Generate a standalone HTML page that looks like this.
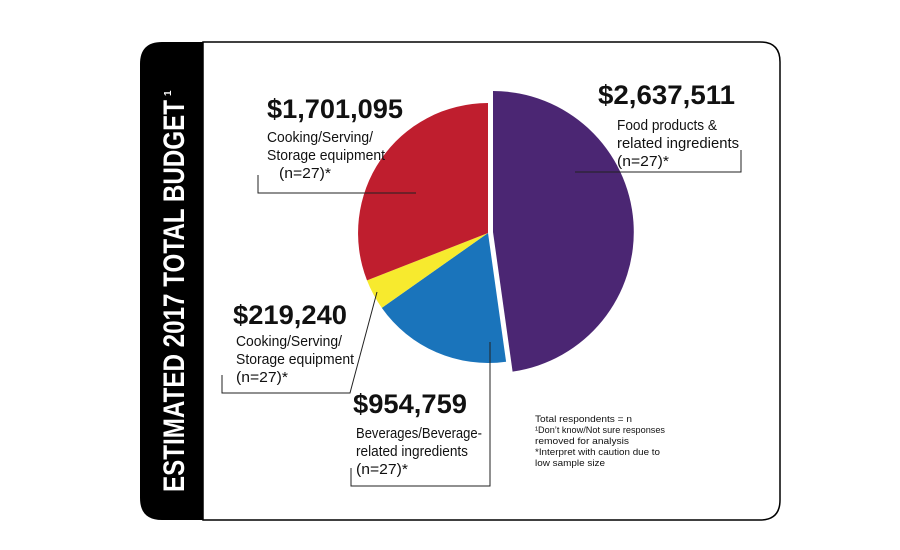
<!DOCTYPE html>
<html><head><meta charset="utf-8"><style>
html,body{margin:0;padding:0;background:#fff;}
svg{display:block;}
text{font-family:"Liberation Sans",sans-serif;}
</style></head><body>
<svg width="900" height="550" viewBox="0 0 900 550" xmlns="http://www.w3.org/2000/svg">
<rect x="0" y="0" width="900" height="550" fill="#fff"/>
<path d="M203,42 H760 Q780,42 780,62 V500 Q780,520 760,520 H203 Z" fill="#fff" stroke="#000" stroke-width="1.5"/>
<path d="M203,42 H162 Q140,42 140,64 V498 Q140,520 162,520 H203 Z" fill="#000"/>
<text transform="translate(184,492) rotate(-90)" font-size="30" font-weight="bold" fill="#fff" textLength="392" lengthAdjust="spacingAndGlyphs">ESTIMATED 2017 TOTAL BUDGET</text>
<text transform="translate(171,96) rotate(-90)" font-size="10" font-weight="bold" fill="#fff">1</text>
<!-- pie -->
<path d="M488,233 L506.1,361.7 A130,130 0 0 1 381.8,307.9 Z" fill="#1a74bb"/>
<path d="M488,233 L381.8,307.9 A130,130 0 0 1 367,280.4 Z" fill="#f7ea2e"/>
<path d="M488,233 L367,280.4 A130,130 0 0 1 488,103 Z" fill="#bf1e2e"/>
<path d="M493,232 L493,91 A141,141 0 0 1 512.6,371.6 Z" fill="#4b2673"/>
<!-- leaders -->
<g stroke="#222" stroke-width="1" fill="none">
<polyline points="575,172 741,172 741,150"/>
<polyline points="258,175 258,193 416,193"/>
<polyline points="222,375 222,393 350,393 377,292"/>
<polyline points="351,468 351,486 490,486 490,342"/>
</g>
<g fill="#111">
<text x="598" y="104" font-size="27" font-weight="bold" textLength="137" lengthAdjust="spacingAndGlyphs">$2,637,511</text>
<text x="617" y="130" font-size="15" textLength="100" lengthAdjust="spacingAndGlyphs">Food products &amp;</text>
<text x="617" y="148" font-size="15" textLength="122" lengthAdjust="spacingAndGlyphs">related ingredients</text>
<text x="617" y="166" font-size="15" textLength="52" lengthAdjust="spacingAndGlyphs">(n=27)*</text>

<text x="267" y="118" font-size="27" font-weight="bold" textLength="136" lengthAdjust="spacingAndGlyphs">$1,701,095</text>
<text x="267" y="142" font-size="15" textLength="106" lengthAdjust="spacingAndGlyphs">Cooking/Serving/</text>
<text x="267" y="160" font-size="15" textLength="118" lengthAdjust="spacingAndGlyphs">Storage equipment</text>
<text x="279" y="178" font-size="15" textLength="52" lengthAdjust="spacingAndGlyphs">(n=27)*</text>

<text x="233" y="324" font-size="27" font-weight="bold" textLength="114" lengthAdjust="spacingAndGlyphs">$219,240</text>
<text x="236" y="346" font-size="15" textLength="106" lengthAdjust="spacingAndGlyphs">Cooking/Serving/</text>
<text x="236" y="364" font-size="15" textLength="118" lengthAdjust="spacingAndGlyphs">Storage equipment</text>
<text x="236" y="382" font-size="15" textLength="52" lengthAdjust="spacingAndGlyphs">(n=27)*</text>

<text x="353" y="413" font-size="27" font-weight="bold" textLength="114" lengthAdjust="spacingAndGlyphs">$954,759</text>
<text x="356" y="438" font-size="15" textLength="126" lengthAdjust="spacingAndGlyphs">Beverages/Beverage-</text>
<text x="356" y="456" font-size="15" textLength="112" lengthAdjust="spacingAndGlyphs">related ingredients</text>
<text x="356" y="474" font-size="15" textLength="52" lengthAdjust="spacingAndGlyphs">(n=27)*</text>

<g font-size="9.5">
<text x="535" y="422" textLength="97" lengthAdjust="spacingAndGlyphs">Total respondents = n</text>
<text x="535" y="433" textLength="130" lengthAdjust="spacingAndGlyphs">¹Don’t know/Not sure responses</text>
<text x="535" y="444" textLength="94" lengthAdjust="spacingAndGlyphs">removed for analysis</text>
<text x="535" y="455" textLength="125" lengthAdjust="spacingAndGlyphs">*Interpret with caution due to</text>
<text x="535" y="466" textLength="70" lengthAdjust="spacingAndGlyphs">low sample size</text>
</g>
</g>
</svg>
</body></html>
